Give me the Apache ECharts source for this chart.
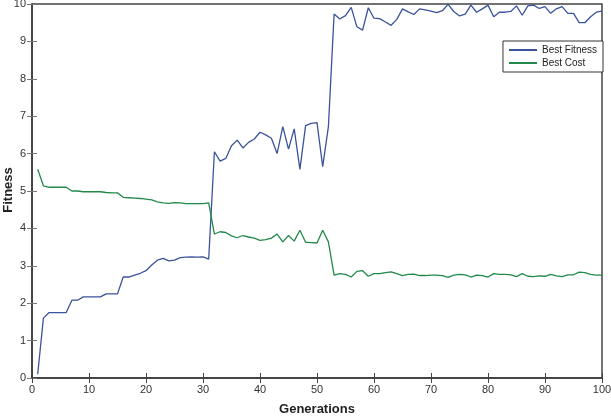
<!DOCTYPE html>
<html>
<head>
<meta charset="utf-8">
<script src="https://cdn.jsdelivr.net/npm/echarts@6/dist/echarts.min.js"></script>
<style>
  html, body { margin: 0; padding: 0; background: #fff; }
  #chart { width: 611px; height: 416px; }
</style>
</head>
<body>
<div id="chart"></div>
<script>
// generations 1..100
var generations = [];
for (var g = 1; g <= 100; g++) generations.push(g);

var bestFitness = [
  0.10, 1.60, 1.75, 1.75, 1.75, 1.75, 2.08, 2.08, 2.17, 2.17,
  2.17, 2.17, 2.25, 2.25, 2.25, 2.70, 2.70, 2.75, 2.80, 2.87,
  3.02, 3.15, 3.20, 3.13, 3.15, 3.22, 3.23, 3.24, 3.23, 3.24,
  3.18, 6.05, 5.80, 5.87, 6.21, 6.36, 6.15, 6.30, 6.39, 6.57,
  6.50, 6.41, 6.00, 6.72, 6.12, 6.66, 5.58, 6.75, 6.81, 6.83,
  5.65, 6.72, 9.73, 9.60, 9.69, 9.91, 9.39, 9.30, 9.90, 9.62,
  9.61, 9.52, 9.43, 9.59, 9.87, 9.79, 9.72, 9.87, 9.84, 9.81,
  9.77, 9.82, 9.99, 9.80, 9.68, 9.73, 9.97, 9.78, 9.87, 9.97,
  9.66, 9.78, 9.78, 9.80, 9.95, 9.70, 9.95, 9.97, 9.88, 9.93,
  9.75, 9.87, 9.93, 9.75, 9.75, 9.50, 9.50, 9.66, 9.78, 9.81
];

var bestCost = [
  5.58, 5.14, 5.10, 5.10, 5.10, 5.10, 5.00, 5.00, 4.98, 4.98,
  4.98, 4.98, 4.96, 4.95, 4.95, 4.83, 4.82, 4.81, 4.80, 4.78,
  4.76, 4.71, 4.68, 4.67, 4.69, 4.68, 4.66, 4.66, 4.66, 4.66,
  4.68, 3.85, 3.91, 3.89, 3.80, 3.75, 3.81, 3.77, 3.74, 3.68,
  3.70, 3.74, 3.85, 3.64, 3.81, 3.66, 3.95, 3.63, 3.62, 3.61,
  3.95, 3.64, 2.75, 2.79, 2.77, 2.70, 2.85, 2.87, 2.72, 2.79,
  2.79, 2.82, 2.84, 2.79, 2.74, 2.77, 2.78, 2.74, 2.74, 2.75,
  2.75, 2.74, 2.69, 2.75, 2.77, 2.76, 2.70, 2.75, 2.74, 2.70,
  2.79, 2.77, 2.77, 2.76, 2.71, 2.79, 2.72, 2.71, 2.73, 2.72,
  2.77, 2.73, 2.71, 2.76, 2.76, 2.83, 2.82, 2.77, 2.75, 2.75
];

var seriesNames = ['Best Fitness', 'Best Cost'];
var seriesColors = ['#3a539b', '#23894a'];

function pairs(vals) {
  var out = [];
  for (var i = 0; i < vals.length; i++) out.push([generations[i], vals[i]]);
  return out;
}

var axisColor = '#444';
var font = 'Liberation Sans, Arial, sans-serif';

var myChart = echarts.init(document.getElementById('chart'));

var option = {
  animation: false,
  grid: {
    left: 32, right: 9, top: 4, bottom: 38,
    outerBoundsMode: 'none', containLabel: false,
    show: true, borderColor: axisColor, borderWidth: 1.5
  },
  legend: {
    data: seriesNames,
    orient: 'vertical',
    right: 8,
    top: 41,
    itemWidth: 28,
    itemHeight: 2,
    itemGap: 3,
    padding: [4, 6, 4, 6],
    borderColor: '#333',
    borderWidth: 1,
    backgroundColor: '#fff',
    icon: 'rect',
    textStyle: { fontFamily: font, fontSize: 10, color: '#222' }
  },
  xAxis: [
    {
      type: 'value', min: 0, max: 100, interval: 10,
      name: 'Generations', nameLocation: 'middle', nameGap: 25,
      nameTextStyle: { fontFamily: font, fontSize: 13, fontWeight: 'bold', color: '#222' },
      axisLine: { lineStyle: { color: axisColor, width: 1.5 } },
      axisTick: { inside: true, length: 5, lineStyle: { color: axisColor } },
      axisLabel: { fontFamily: font, fontSize: 11, color: '#333', margin: 6 },
      splitLine: { show: false }
    },
    {
      type: 'value', min: 0, max: 100, interval: 10, position: 'top',
      axisLine: { show: true, lineStyle: { color: axisColor, width: 1.5 } },
      axisTick: { inside: true, length: 5, lineStyle: { color: axisColor } },
      axisLabel: { show: false },
      splitLine: { show: false }
    }
  ],
  yAxis: [
    {
      type: 'value', min: 0, max: 10, interval: 1,
      axisLine: { show: true, lineStyle: { color: axisColor, width: 1.5 } },
      axisTick: { show: true, inside: true, length: 5, lineStyle: { color: '#777' } },
      axisLabel: { fontFamily: font, fontSize: 11, color: '#333', margin: 6 },
      splitLine: { show: false }
    },
    {
      type: 'value', min: 0, max: 10, interval: 1, position: 'right',
      axisLine: { show: true, lineStyle: { color: axisColor, width: 1.5 } },
      axisTick: { show: true, inside: true, length: 5, lineStyle: { color: '#777' } },
      axisLabel: { show: false },
      splitLine: { show: false }
    }
  ],
  graphic: [
    {
      type: 'text',
      x: 2,
      y: 190,
      rotation: Math.PI / 2,
      style: {
        text: 'Fitness',
        textAlign: 'center',
        textVerticalAlign: 'top',
        fontFamily: font, fontSize: 13, fontWeight: 'bold', fill: '#222'
      }
    }
  ],
  series: [
    {
      name: seriesNames[0], type: 'line', data: pairs(bestFitness),
      showSymbol: false, symbol: 'none',
      lineStyle: { color: seriesColors[0], width: 1.3 },
      itemStyle: { color: seriesColors[0] }
    },
    {
      name: seriesNames[1], type: 'line', data: pairs(bestCost),
      showSymbol: false, symbol: 'none',
      lineStyle: { color: seriesColors[1], width: 1.3 },
      itemStyle: { color: seriesColors[1] }
    }
  ]
};

myChart.setOption(option);
</script>
</body>
</html>
